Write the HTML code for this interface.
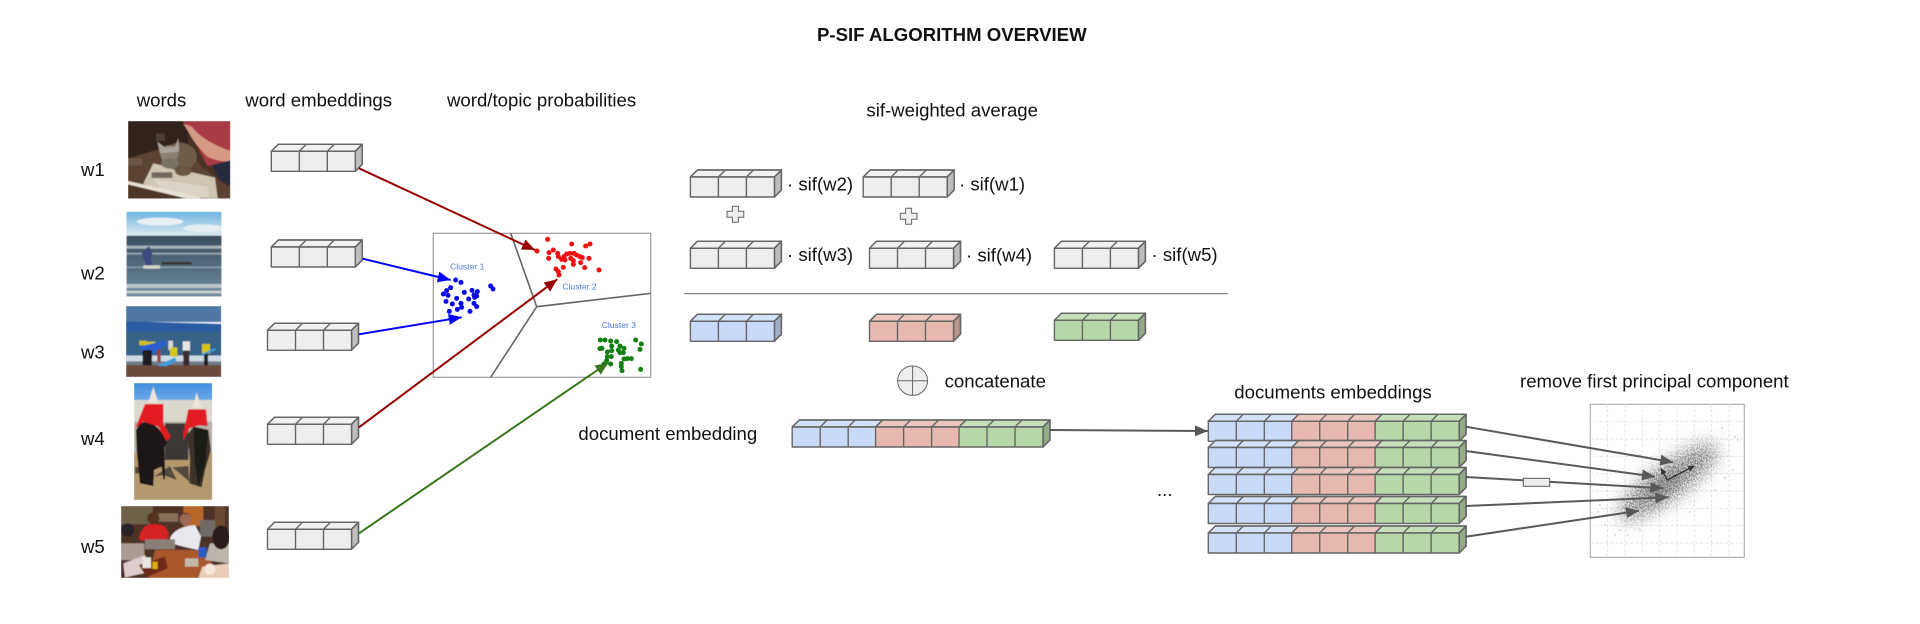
<!DOCTYPE html>
<html><head><meta charset="utf-8"><title>P-SIF Algorithm Overview</title>
<style>
html,body{margin:0;padding:0;background:#fff}
svg{display:block}
text{font-family:"Liberation Sans",Arial,sans-serif;font-size:18.6px;fill:#111}
.cl{font-size:8.6px;fill:#4f7bd0}
</style></head><body>
<svg width="1920" height="624" viewBox="0 0 1920 624" xmlns="http://www.w3.org/2000/svg">
<defs>
<filter id="bl" x="-5%" y="-5%" width="110%" height="110%"><feGaussianBlur stdDeviation="1.8"/></filter>
<filter id="bc" x="-40%" y="-80%" width="180%" height="260%"><feGaussianBlur stdDeviation="7"/></filter>
<filter id="st" x="-40%" y="-100%" width="180%" height="300%" color-interpolation-filters="sRGB">
<feGaussianBlur in="SourceAlpha" stdDeviation="9" result="a"/>
<feTurbulence type="fractalNoise" baseFrequency="0.75" numOctaves="1" seed="4" result="n"/>
<feColorMatrix in="n" type="matrix" values="0 0 0 0 .4  0 0 0 0 .4  0 0 0 0 .4  3.5 0 0 0 -1.3" result="s"/>
<feComposite in="s" in2="a" operator="in"/>
</filter>
<g id="b3" stroke="#666" stroke-width="1.4" stroke-linejoin="round">
<path d="M0 0l7-7h84l-7 7z"/><path d="M0 0l7-7h84l-7 7z" fill="#fff" fill-opacity=".2"/>
<path d="M84 0l7-7v20l-7 7z"/><path d="M84 0l7-7v20l-7 7z" fill="#000" fill-opacity=".2"/>
<path d="M28 0l7-7M56 0l7-7" fill="none"/>
<rect width="84" height="20"/><path d="M28 0v20M56 0v20" fill="none"/>
</g>
<g id="doc"><use href="#b3" fill="#c9daf8"/><use href="#b3" x="83.4" fill="#e6b8af"/><use href="#b3" x="166.8" fill="#b6d7a8"/></g>
<marker id="mr" markerUnits="userSpaceOnUse" markerWidth="14" markerHeight="12" refX="13" refY="5.5" orient="auto"><path d="M0 0L13 5.5L0 11z" fill="#980000"/></marker>
<marker id="mb" markerUnits="userSpaceOnUse" markerWidth="14" markerHeight="12" refX="13" refY="5.5" orient="auto"><path d="M0 0L13 5.5L0 11z" fill="#0000ff"/></marker>
<marker id="mg" markerUnits="userSpaceOnUse" markerWidth="14" markerHeight="12" refX="13" refY="5.5" orient="auto"><path d="M0 0L13 5.5L0 11z" fill="#38761d"/></marker>
<marker id="mk" markerUnits="userSpaceOnUse" markerWidth="14" markerHeight="12" refX="13" refY="5.5" orient="auto"><path d="M0 0L13 5.5L0 11z" fill="#595959"/></marker>
<marker id="md" markerUnits="userSpaceOnUse" markerWidth="7" markerHeight="7" refX="6" refY="3" orient="auto"><path d="M0 0L6 3L0 6z" fill="#333"/></marker>
<clipPath id="c1"><rect x="24" y="18" width="307" height="233"/></clipPath>
<clipPath id="c2"><rect x="199" y="425" width="286" height="255"/></clipPath>
<clipPath id="c3"><rect x="18" y="18" width="286" height="213"/></clipPath>
<clipPath id="c4"><rect x="12" y="9" width="235" height="351"/></clipPath>
<clipPath id="c5"><rect x="18" y="18" width="324" height="216"/></clipPath>
<linearGradient id="sky" x1="0" y1="0" x2="0" y2="1"><stop offset="0" stop-color="#6fb4de"/><stop offset="1" stop-color="#dceaf0"/></linearGradient>
<linearGradient id="sea" x1="0" y1="0" x2="0" y2="1"><stop offset="0" stop-color="#3a4e5e"/><stop offset="1" stop-color="#6f8b9e"/></linearGradient>
<linearGradient id="sky4" x1="0" y1="0" x2="0" y2="1"><stop offset="0" stop-color="#3f8ddf"/><stop offset="1" stop-color="#8fc0ee"/></linearGradient>
</defs>

<text x="817" y="41" style="font-weight:bold">P-SIF ALGORITHM OVERVIEW</text>
<text x="136.7" y="106.5">words</text>
<text x="245.3" y="106.5">word embeddings</text>
<text x="447" y="106.5">word/topic probabilities</text>
<text x="866.4" y="116.7">sif-weighted average</text>
<text x="81" y="176">w1</text>
<text x="81" y="279.3">w2</text>
<text x="81" y="358.7">w3</text>
<text x="81" y="445">w4</text>
<text x="81" y="553">w5</text>

<!-- photo w1 -->
<g transform="translate(120,115) scale(.33333)"><g clip-path="url(#c1)"><g filter="url(#bl)">
<rect x="24" y="18" width="307" height="233" fill="#4a3226"/>
<rect x="24" y="18" width="180" height="110" fill="#30201a"/>
<path d="M24 130L110 105 200 90 240 150 290 190 331 220V251H24z" fill="#5b4232"/>
<path d="M185 18H331V150L262 152 240 110 215 40z" fill="#a83a44"/>
<path d="M190 26L215 35Q250 80 331 108V140Q290 140 262 125 225 90 205 50z" fill="#d69a84"/>
<path d="M275 150L331 136V212L300 195z" fill="#252c3c"/>
<path d="M100 145L285 188 293 250 120 248 70 205z" fill="#cfc5b4"/>
<path d="M100 192L262 215 268 248 130 232z" fill="#dcd4c8"/>
<ellipse cx="180" cy="125" rx="50" ry="42" fill="#6e5c48"/>
<circle cx="148" cy="118" r="27" fill="#8a8172"/>
<path d="M112 80L135 98 165 95 175 70 178 110 120 115z" fill="#a8a298"/>
<ellipse cx="150" cy="145" rx="26" ry="16" fill="#7a7264"/>
<ellipse cx="190" cy="168" rx="25" ry="15" fill="#6a5540"/>
<rect x="95" y="172" width="62" height="17" fill="#6f685c"/>
<rect x="108" y="56" width="26" height="22" fill="#4e4038"/>
<rect x="24" y="130" width="44" height="22" fill="#6a5648"/>
<path d="M24 198L240 246V251H24z" fill="#e8e0d4"/>
<path d="M24 208L200 251H24z" fill="#4e3526"/>
</g></g></g>

<!-- photo w2 -->
<g transform="translate(60,70) scale(.33333)"><g clip-path="url(#c2)"><g filter="url(#bl)">
<rect x="199" y="425" width="286" height="72" fill="url(#sky)"/>
<ellipse cx="300" cy="455" rx="70" ry="12" fill="#e8f0f4"/>
<ellipse cx="430" cy="475" rx="60" ry="12" fill="#e4eef2"/>
<rect x="199" y="497" width="286" height="183" fill="url(#sea)"/>
<rect x="199" y="527" width="286" height="9" fill="#a8b6bc"/>
<rect x="199" y="548" width="286" height="6" fill="#93a5ae"/>
<rect x="199" y="590" width="286" height="4" fill="#8ea2ae"/>
<rect x="199" y="642" width="286" height="12" fill="#bcc6c8"/>
<rect x="199" y="662" width="286" height="8" fill="#cdd2d0"/>
<path d="M245 550l22-22 10 20-5 25 8 10-20 5z" fill="#3a4a80"/>
<rect x="250" y="586" width="50" height="10" fill="#d6d6ce"/>
<rect x="305" y="576" width="90" height="8" fill="#3c3432"/>
</g></g></g>

<!-- photo w3 -->
<g transform="translate(120,300) scale(.33333)"><g clip-path="url(#c3)"><g filter="url(#bl)">
<rect x="18" y="18" width="286" height="48" fill="#4f78a6"/>
<path d="M18 64L150 68 304 72V96H18z" fill="#2a5ba4"/>
<rect x="18" y="95" width="286" height="72" fill="#376489"/>
<rect x="18" y="167" width="286" height="18" fill="#cfdbe4"/>
<rect x="18" y="184" width="286" height="12" fill="#6e7e8a"/>
<rect x="18" y="195" width="286" height="36" fill="#6c4c3c"/>
<rect x="58" y="122" width="22" height="14" fill="#d0c020"/>
<rect x="80" y="125" width="26" height="24" fill="#d6c61e"/>
<path d="M58 140L140 120 138 132 102 160 70 160z" fill="#2a60d0"/>
<rect x="68" y="150" width="28" height="46" fill="#1e1e22"/>
<rect x="112" y="148" width="10" height="38" fill="#a03a3a"/>
<rect x="145" y="122" width="14" height="28" fill="#d8d8dc"/>
<rect x="150" y="142" width="22" height="28" fill="#d6c61e"/>
<rect x="188" y="124" width="22" height="28" fill="#e8e6e8"/>
<rect x="190" y="152" width="18" height="44" fill="#3a2a2e"/>
<rect x="246" y="132" width="24" height="28" fill="#d6c61e"/>
<rect x="252" y="160" width="12" height="36" fill="#1e1e22"/>
<path d="M110 198L165 172 170 182 140 198z" fill="#3d9ce0"/>
<path d="M245 162L285 144 288 150 250 165z" fill="#3d9ce0"/>
</g></g></g>

<!-- photo w4 -->
<g transform="translate(130,380) scale(.33333)"><g clip-path="url(#c4)"><g filter="url(#bl)">
<rect x="12" y="9" width="235" height="90" fill="url(#sky4)"/>
<rect x="12" y="60" width="235" height="85" fill="#ddd8ce"/>
<rect x="12" y="125" width="235" height="95" fill="#b8b2a8"/>
<rect x="12" y="218" width="235" height="142" fill="#b4996e"/>
<rect x="105" y="130" width="70" height="110" fill="#3a3836"/>
<path d="M70 20L55 68H85z" fill="#ece6da"/>
<path d="M200 37L188 84H214z" fill="#ece6da"/>
<path d="M15 262L58 258 40 280 15 280zM72 290L120 258 140 300 100 285zM128 262L175 258 178 305z" fill="#52483e"/>
<path d="M32 128L18 150 20 210 30 310 70 318 72 270 95 260 100 298 105 298 104 200 115 180 85 145 60 125z" fill="#1c1818"/>
<path d="M190 140L172 165 180 240 178 310 215 322 225 270 243 210 235 150z" fill="#3c302a"/>
<path d="M190 140L235 150 225 260 205 320 195 250z" fill="#1f1a18"/>
<path d="M45 72H100V130L122 170 110 185 85 140 40 125 16 145z" fill="#e21d24"/>
<path d="M175 88H228L233 138 205 136 178 145 160 182 160 160z" fill="#e21d24"/>
</g></g></g>

<!-- photo w5 -->
<g transform="translate(115,500) scale(.33333)"><g clip-path="url(#c5)"><g filter="url(#bl)">
<rect x="18" y="18" width="324" height="216" fill="#4e3226"/>
<rect x="18" y="18" width="95" height="55" fill="#6e6048"/>
<rect x="205" y="18" width="60" height="60" fill="#b8682a"/>
<rect x="130" y="40" width="60" height="25" fill="#86705a"/>
<rect x="255" y="60" width="50" height="50" fill="#6e6a66"/>
<rect x="300" y="18" width="30" height="60" fill="#6e4a30"/>
<path d="M120 150H262L290 185 250 234H100z" fill="#a8592c"/>
<path d="M72 115Q80 70 118 72 160 72 162 110L150 122H80z" fill="#d62020"/>
<circle cx="115" cy="55" r="18" fill="#54301f"/>
<path d="M165 115Q180 80 240 75L258 110 250 150 205 140 170 130z" fill="#e8e8ee"/>
<circle cx="212" cy="58" r="18" fill="#9a6a54"/>
<path d="M195 50Q212 28 232 50L225 42 200 42z" fill="#241810"/>
<path d="M270 180L285 130 342 130V190z" fill="#bdb6aa"/>
<ellipse cx="318" cy="112" rx="26" ry="36" fill="#2a1c1e"/>
<circle cx="38" cy="90" r="20" fill="#2a2028"/>
<rect x="18" y="130" width="70" height="50" fill="#aa9c94"/>
<rect x="90" y="118" width="90" height="30" fill="#8a8078"/>
<path d="M25 190L90 165 110 215 30 232z" fill="#dccccc"/>
<path d="M72 195L150 170 158 205 95 232z" fill="#6e2a18"/>
<rect x="82" y="172" width="26" height="32" fill="#e8e4de"/>
<rect x="112" y="185" width="16" height="22" fill="#d8b018"/>
<rect x="250" y="142" width="24" height="30" fill="#2a5cc8"/>
<rect x="210" y="175" width="40" height="25" fill="#c4b8a8"/>
<path d="M250 234L262 200 342 190V234z" fill="#e8ccb8"/>
<circle cx="285" cy="208" r="17" fill="#f4e4da"/>
</g></g></g>

<!-- word embedding boxes -->
<g fill="#eeeeee">
<use href="#b3" x="271.3" y="151.3"/>
<use href="#b3" x="271.3" y="247"/>
<use href="#b3" x="267.5" y="330.3"/>
<use href="#b3" x="267.5" y="424.3"/>
<use href="#b3" x="267.5" y="529.3"/>
</g>

<!-- cluster plot -->
<rect x="433.3" y="233.3" width="217.4" height="144" fill="#fff" stroke="#9a9a9a" stroke-width="1.2"/>
<g stroke="#666" stroke-width="1.6" fill="none">
<path d="M510.7 233.3L536.7 306.7L650.7 293.3M536.7 306.7L490.7 377.3"/>
</g>
<text class="cl" x="450" y="269.3">Cluster 1</text>
<text class="cl" x="562.3" y="289.3">Cluster 2</text>
<text class="cl" x="601.7" y="328">Cluster 3</text>
<g transform="translate(420,220) scale(.33333)">
<g fill="#0a0ae6">
<circle cx="107" cy="180" r="7.5"/><circle cx="123" cy="187" r="7.5"/><circle cx="92" cy="203" r="7.5"/><circle cx="80" cy="212" r="7.5"/><circle cx="70" cy="222" r="7.5"/><circle cx="84" cy="226" r="7.5"/><circle cx="133" cy="217" r="7.5"/><circle cx="156" cy="211" r="7.5"/><circle cx="172" cy="215" r="7.5"/><circle cx="162" cy="225" r="7.5"/><circle cx="170" cy="228" r="7.5"/><circle cx="146" cy="237" r="7.5"/><circle cx="164" cy="232" r="7.5"/><circle cx="78" cy="244" r="7.5"/><circle cx="110" cy="235" r="7.5"/><circle cx="123" cy="250" r="7.5"/><circle cx="97" cy="252" r="7.5"/><circle cx="162" cy="250" r="7.5"/><circle cx="170" cy="260" r="7.5"/><circle cx="125" cy="262" r="7.5"/><circle cx="112" cy="268" r="7.5"/><circle cx="88" cy="274" r="7.5"/><circle cx="150" cy="274" r="7.5"/><circle cx="212" cy="198" r="7.5"/><circle cx="219" cy="207" r="7.5"/>
</g>
<g fill="#f01010">
<circle cx="383" cy="58" r="7.5"/><circle cx="455" cy="72" r="7.5"/><circle cx="497" cy="78" r="7.5"/><circle cx="510" cy="72" r="7.5"/><circle cx="351" cy="93" r="7.5"/><circle cx="387" cy="98" r="7.5"/><circle cx="400" cy="90" r="7.5"/><circle cx="413" cy="100" r="7.5"/><circle cx="386" cy="115" r="7.5"/><circle cx="415" cy="110" r="7.5"/><circle cx="425" cy="118" r="7.5"/><circle cx="435" cy="120" r="7.5"/><circle cx="440" cy="102" r="7.5"/><circle cx="450" cy="100" r="7.5"/><circle cx="462" cy="100" r="7.5"/><circle cx="470" cy="105" r="7.5"/><circle cx="480" cy="110" r="7.5"/><circle cx="487" cy="113" r="7.5"/><circle cx="507" cy="115" r="7.5"/><circle cx="432" cy="110" r="7.5"/><circle cx="452" cy="115" r="7.5"/><circle cx="460" cy="122" r="7.5"/><circle cx="482" cy="128" r="7.5"/><circle cx="460" cy="133" r="7.5"/><circle cx="430" cy="142" r="7.5"/><circle cx="494" cy="143" r="7.5"/><circle cx="537" cy="150" r="7.5"/><circle cx="408" cy="147" r="7.5"/><circle cx="415" cy="155" r="7.5"/><circle cx="417" cy="165" r="7.5"/>
</g>
<g fill="#118011">
<circle cx="541" cy="360" r="7.5"/><circle cx="555" cy="360" r="7.5"/><circle cx="572" cy="363" r="7.5"/><circle cx="590" cy="365" r="7.5"/><circle cx="647" cy="360" r="7.5"/><circle cx="664" cy="372" r="7.5"/><circle cx="660" cy="388" r="7.5"/><circle cx="575" cy="378" r="7.5"/><circle cx="600" cy="378" r="7.5"/><circle cx="540" cy="386" r="7.5"/><circle cx="546" cy="385" r="7.5"/><circle cx="575" cy="392" r="7.5"/><circle cx="562" cy="396" r="7.5"/><circle cx="595" cy="390" r="7.5"/><circle cx="612" cy="385" r="7.5"/><circle cx="600" cy="398" r="7.5"/><circle cx="610" cy="398" r="7.5"/><circle cx="574" cy="410" r="7.5"/><circle cx="562" cy="410" r="7.5"/><circle cx="560" cy="422" r="7.5"/><circle cx="612" cy="417" r="7.5"/><circle cx="622" cy="416" r="7.5"/><circle cx="634" cy="416" r="7.5"/><circle cx="552" cy="432" r="7.5"/><circle cx="572" cy="432" r="7.5"/><circle cx="604" cy="430" r="7.5"/><circle cx="604" cy="440" r="7.5"/><circle cx="606" cy="452" r="7.5"/><circle cx="662" cy="448" r="7.5"/>
</g>
</g>

<!-- coloured arrows -->
<g fill="none" stroke-width="2">
<line x1="359" y1="168.3" x2="535" y2="250" stroke="#980000" marker-end="url(#mr)"/>
<line x1="359" y1="427.3" x2="557.3" y2="279.3" stroke="#980000" marker-end="url(#mr)"/>
<line x1="362.7" y1="258.7" x2="450.7" y2="280" stroke="#0000ff" marker-end="url(#mb)"/>
<line x1="359" y1="334.3" x2="461.7" y2="317.3" stroke="#0000ff" marker-end="url(#mb)"/>
<line x1="359" y1="533.3" x2="608.3" y2="362.7" stroke="#38761d" marker-end="url(#mg)"/>
</g>

<!-- sif boxes -->
<g fill="#eeeeee">
<use href="#b3" x="690.4" y="177"/>
<use href="#b3" x="863.2" y="177"/>
<use href="#b3" x="690.4" y="248.3"/>
<use href="#b3" x="869.5" y="248.3"/>
<use href="#b3" x="1054.4" y="248.3"/>
</g>
<text x="787" y="190.7">· sif(w2)</text>
<text x="959" y="190.7">· sif(w1)</text>
<text x="787" y="261">· sif(w3)</text>
<text x="966" y="261.5">· sif(w4)</text>
<text x="1151.5" y="261">· sif(w5)</text>
<g fill="#eeeeee" stroke="#666" stroke-width="1">
<path transform="translate(735.4,214.3)" d="M-3-8h6v5h5.4v6H3v5h-6V3h-5.4v-6H-3z"/>
<path transform="translate(908.6,216.3)" d="M-3-8h6v5h5.4v6H3v5h-6V3h-5.4v-6H-3z"/>
</g>
<line x1="684.3" y1="293.7" x2="1228" y2="293.7" stroke="#777" stroke-width="1.1"/>
<use href="#b3" x="690.4" y="321.3" fill="#c9daf8"/>
<use href="#b3" x="869.5" y="321.3" fill="#e6b8af"/>
<use href="#b3" x="1054.4" y="320.3" fill="#b6d7a8"/>

<!-- concatenate -->
<ellipse cx="912.6" cy="380.7" rx="15" ry="14.7" fill="#eeeeee" stroke="#666" stroke-width="1"/>
<path d="M912.6 366v29.4M897.6 380.7h30" stroke="#666" stroke-width="1" fill="none"/>
<text x="944.6" y="387.3">concatenate</text>
<text x="578.4" y="440">document embedding</text>
<use href="#doc" x="792.2" y="427"/>
<line x1="1050" y1="430" x2="1208" y2="431" stroke="#595959" stroke-width="2" marker-end="url(#mk)"/>
<text x="1157" y="496">...</text>

<!-- documents -->
<text x="1234.3" y="398.3">documents embeddings</text>
<use href="#doc" x="1208.3" y="421.3"/>
<use href="#doc" x="1208.3" y="447.5"/>
<use href="#doc" x="1208.3" y="474.5"/>
<use href="#doc" x="1208.3" y="503.5"/>
<use href="#doc" x="1208.3" y="533"/>

<!-- PCA plot -->
<text x="1520" y="387.7">remove first principal component</text>
<rect x="1590.3" y="404.3" width="154" height="153" fill="#fff" stroke="#aaa" stroke-width="1.1"/>
<g stroke="#e2e2e2" stroke-width=".9" stroke-dasharray="3 2" fill="none">
<path d="M1607.6 404.3v153M1625 404.3v153M1642.3 404.3v153M1659.6 404.3v153M1677 404.3v153M1694.3 404.3v153M1711.6 404.3v153M1729 404.3v153"/>
<path d="M1590.3 421.6h154M1590.3 439h154M1590.3 456.3h154M1590.3 473.6h154M1590.3 491h154M1590.3 508.3h154M1590.3 525.6h154M1590.3 543h154"/>
</g>
<g transform="rotate(-36 1668 482)">
<ellipse cx="1668" cy="482" rx="55" ry="13" fill="#8f8f8f" opacity=".4" filter="url(#bc)"/>
<ellipse cx="1668" cy="482" rx="62" ry="18" fill="#666" filter="url(#st)"/>
<ellipse cx="1662" cy="482" rx="22" ry="6" fill="#555" opacity=".4" filter="url(#bc)"/>
</g>
<g fill="#b4b4b4">
<circle cx="1620" cy="530" r=".7"/><circle cx="1600" cy="505" r=".7"/><circle cx="1628" cy="535" r=".7"/><circle cx="1605" cy="525" r=".7"/><circle cx="1640" cy="530" r=".7"/><circle cx="1690" cy="512" r=".7"/><circle cx="1715" cy="490" r=".7"/><circle cx="1733" cy="470" r=".7"/><circle cx="1738" cy="440" r=".7"/><circle cx="1722" cy="428" r=".7"/><circle cx="1735" cy="437" r=".7"/><circle cx="1598" cy="512" r=".7"/><circle cx="1615" cy="535" r=".7"/><circle cx="1725" cy="478" r=".7"/><circle cx="1640" cy="455" r=".7"/>
</g>
<g stroke="#333" stroke-width="1.4" fill="none">
<line x1="1667.3" y1="480" x2="1694.3" y2="466" marker-end="url(#md)"/>
<line x1="1667.3" y1="480" x2="1661" y2="468.3" marker-end="url(#md)"/>
</g>

<!-- doc to plot arrows -->
<g stroke="#595959" stroke-width="2" fill="none">
<line x1="1465.7" y1="426.7" x2="1673.3" y2="462.3" marker-end="url(#mk)"/>
<line x1="1465.7" y1="451" x2="1655" y2="476.7" marker-end="url(#mk)"/>
<line x1="1465.7" y1="477" x2="1663.3" y2="488.3" marker-end="url(#mk)"/>
<line x1="1465.7" y1="506" x2="1668.3" y2="497.3" marker-end="url(#mk)"/>
<line x1="1465.7" y1="536.7" x2="1639" y2="510.7" marker-end="url(#mk)"/>
</g>
<rect x="1523.3" y="478.3" width="26.4" height="8" fill="#eeeeee" stroke="#595959" stroke-width="1"/>
</svg>
</body></html>
